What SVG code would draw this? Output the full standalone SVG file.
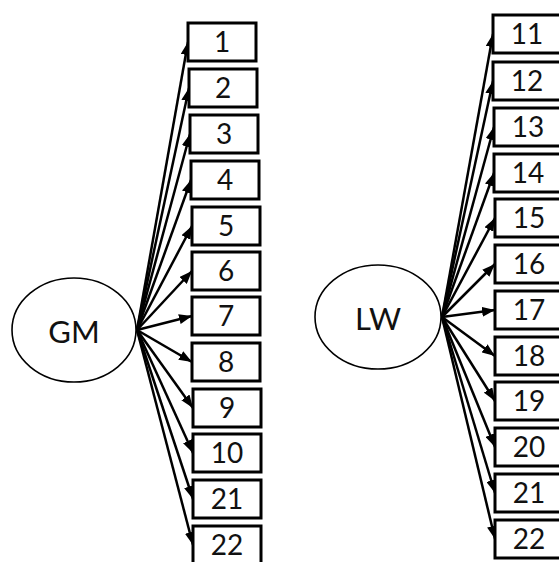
<svg xmlns="http://www.w3.org/2000/svg" width="559" height="562" viewBox="0 0 559 562">
<defs>
<marker id="ah" markerUnits="userSpaceOnUse" markerWidth="13" markerHeight="10" refX="13" refY="5" orient="auto">
<path d="M0,0 L13,5 L0,10 z" fill="#000"/>
</marker>
<style>
.box{fill:#fff;stroke:#000;stroke-width:3}
.lat{fill:#fff;stroke:#000;stroke-width:1.6}
.num{font-family:Lato,"Open Sans",sans-serif;font-size:28px;text-anchor:middle;fill:#111}
.lbl{font-family:Lato,"Open Sans",sans-serif;font-size:31px;text-anchor:middle;fill:#111}
.c line{stroke:#000;stroke-width:2.5;marker-end:url(#ah)}
</style>
</defs>
<rect width="559" height="562" fill="#fff"/>
<g class="c" id="connectors">
<line x1="137" y1="330" x2="188" y2="42"/>
<line x1="137" y1="330" x2="189" y2="88"/>
<line x1="137" y1="330" x2="190" y2="134"/>
<line x1="137" y1="330" x2="191" y2="180"/>
<line x1="137" y1="330" x2="192" y2="226"/>
<line x1="137" y1="330" x2="192" y2="271"/>
<line x1="137" y1="330" x2="192" y2="316"/>
<line x1="137" y1="330" x2="192" y2="362"/>
<line x1="137" y1="330" x2="193" y2="408"/>
<line x1="137" y1="330" x2="193" y2="453"/>
<line x1="137" y1="330" x2="193" y2="499"/>
<line x1="137" y1="330" x2="193" y2="545"/>
<line x1="442" y1="317" x2="493" y2="34"/>
<line x1="442" y1="317" x2="493" y2="81"/>
<line x1="442" y1="317" x2="494" y2="127"/>
<line x1="442" y1="317" x2="494" y2="173"/>
<line x1="442" y1="317" x2="495" y2="218"/>
<line x1="442" y1="317" x2="495" y2="264"/>
<line x1="442" y1="317" x2="495" y2="310"/>
<line x1="442" y1="317" x2="495" y2="356"/>
<line x1="442" y1="317" x2="495" y2="401"/>
<line x1="442" y1="317" x2="495" y2="447"/>
<line x1="442" y1="317" x2="495" y2="493"/>
<line x1="442" y1="317" x2="495" y2="539"/>
</g>
<g id="GM"><ellipse class="lat" cx="74" cy="330" rx="62" ry="52"/><text class="lbl" x="74" y="343">GM</text></g>
<g id="LW"><ellipse class="lat" cx="378" cy="317" rx="63" ry="52"/><text class="lbl" x="378" y="330">LW</text></g>
<g id="b1"><rect class="box" x="188" y="23" width="68" height="38"/><text class="num" x="222" y="52">1</text></g>
<g id="b2"><rect class="box" x="189" y="69" width="68" height="38"/><text class="num" x="223" y="98">2</text></g>
<g id="b3"><rect class="box" x="190" y="115" width="68" height="38"/><text class="num" x="224" y="144">3</text></g>
<g id="b4"><rect class="box" x="191" y="161" width="68" height="38"/><text class="num" x="225" y="190">4</text></g>
<g id="b5"><rect class="box" x="192" y="207" width="68" height="38"/><text class="num" x="226" y="236">5</text></g>
<g id="b6"><rect class="box" x="192" y="252" width="68" height="38"/><text class="num" x="226" y="281">6</text></g>
<g id="b7"><rect class="box" x="192" y="297" width="68" height="38"/><text class="num" x="226" y="326">7</text></g>
<g id="b8"><rect class="box" x="192" y="343" width="68" height="38"/><text class="num" x="226" y="372">8</text></g>
<g id="b9"><rect class="box" x="193" y="389" width="68" height="38"/><text class="num" x="227" y="418">9</text></g>
<g id="b10"><rect class="box" x="193" y="434" width="68" height="38"/><text class="num" x="227" y="463">10</text></g>
<g id="b21a"><rect class="box" x="193" y="480" width="68" height="38"/><text class="num" x="227" y="509">21</text></g>
<g id="b22a"><rect class="box" x="193" y="526" width="68" height="38"/><text class="num" x="227" y="555">22</text></g>
<g id="b11"><rect class="box" x="493" y="15" width="68" height="38"/><text class="num" x="527" y="44">11</text></g>
<g id="b12"><rect class="box" x="493" y="62" width="68" height="38"/><text class="num" x="527" y="91">12</text></g>
<g id="b13"><rect class="box" x="494" y="108" width="68" height="38"/><text class="num" x="528" y="137">13</text></g>
<g id="b14"><rect class="box" x="494" y="154" width="68" height="38"/><text class="num" x="528" y="183">14</text></g>
<g id="b15"><rect class="box" x="495" y="199" width="68" height="38"/><text class="num" x="529" y="228">15</text></g>
<g id="b16"><rect class="box" x="495" y="245" width="68" height="38"/><text class="num" x="529" y="274">16</text></g>
<g id="b17"><rect class="box" x="495" y="291" width="68" height="38"/><text class="num" x="529" y="320">17</text></g>
<g id="b18"><rect class="box" x="495" y="337" width="68" height="38"/><text class="num" x="529" y="366">18</text></g>
<g id="b19"><rect class="box" x="495" y="382" width="68" height="38"/><text class="num" x="529" y="411">19</text></g>
<g id="b20"><rect class="box" x="495" y="428" width="68" height="38"/><text class="num" x="529" y="457">20</text></g>
<g id="b21b"><rect class="box" x="495" y="474" width="68" height="38"/><text class="num" x="529" y="503">21</text></g>
<g id="b22b"><rect class="box" x="495" y="520" width="68" height="38"/><text class="num" x="529" y="549">22</text></g>
</svg>
